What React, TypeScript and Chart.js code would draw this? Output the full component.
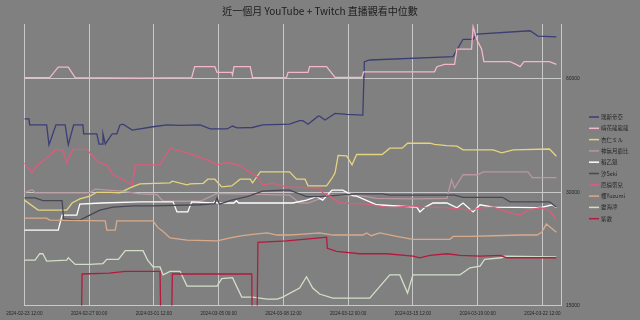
import { useEffect, useRef } from 'react';
import { Chart, registerables } from 'chart.js';

Chart.register(...registerables);

// x values are hours since 2024-02-23 12:00
const TITLE = '近一個月 YouTube + Twitch 直播觀看中位數';
const SERIES_NAMES = ['瑞斯帝亞', '晴花龍龍龍', '杏仁ミル', '神無月鹿比', '稻乙鏈', '汐Seki', '厄倫蒂兒', '櫻Yuzumi', '靈海澪', '紫歌'];
const SERIES_COLORS = ['#3b3e74', '#f4b6c8', '#e6d47c', '#b8979f', '#ffffff', '#4b4656', '#dc5c7c', '#d9aa8a', '#d2dfc8', '#b5193d'];
const X_TICK_HOURS = [0, 84, 168, 252, 336, 420, 504, 588, 672];
const X_TICK_LABELS = ['2024-02-23 12:00', '2024-02-27 00:00', '2024-03-01 12:00', '2024-03-05 00:00', '2024-03-08 12:00', '2024-03-12 00:00', '2024-03-15 12:00', '2024-03-19 00:00', '2024-03-22 12:00'];
const X_MAX_HOURS = 696;
const Y_TICKS = [15000, 30000, 60000];
const Y_MIN = 15000;
const Y_MAX = 84000;

const restiaData = [[0,47000],[6,47000],[7,45300],[29,45300],[32,40100],[41,45300],[53,45300],[57,40100],[64,45300],[76,45300],[77,42900],[94,42900],[97,40300],[101,40300],[102,42900],[105,40300],[114,42900],[120,42900],[124,45300],[128,45500],[140,43900],[167,44800],[185,45300],[202,45200],[228,45300],[241,44200],[263,44200],[270,45000],[276,44500],[296,44600],[309,45300],[344,45500],[357,46500],[361,46500],[368,45500],[381,47800],[383,47800],[390,46700],[403,48600],[418,48300],[439,48100],[441,66700],[448,67400],[556,68800],[569,76500],[582,76500],[587,79000],[656,80600],[666,78000],[690,77600]];
const hanaData = [[0,60500],[33,60500],[44,64500],[57,64500],[66,60500],[150,60300],[217,60500],[221,64700],[247,64700],[250,62500],[269,62500],[270,61500],[272,64700],[293,64700],[296,60500],[340,60500],[342,62500],[368,62500],[370,64700],[392,64700],[403,60600],[438,60600],[440,62700],[532,62700],[535,64700],[545,65600],[558,65600],[561,72000],[580,72000],[582,82600],[587,76200],[593,72100],[596,66700],[630,66700],[639,65400],[643,64700],[648,66700],[681,66700],[690,65600]];
const anninData = [[0,28600],[18,26900],[55,26900],[62,28100],[72,28800],[85,29300],[94,30000],[111,30000],[124,29900],[131,30400],[140,31000],[150,31600],[189,31800],[192,32100],[211,31400],[215,31600],[232,31700],[238,32500],[247,32500],[256,31000],[269,31200],[280,32500],[293,32500],[296,31800],[306,34000],[344,34000],[353,32500],[364,32500],[368,31200],[392,31200],[399,32700],[403,33800],[407,37600],[418,37500],[425,35500],[431,37800],[464,37800],[474,39300],[490,39300],[497,40500],[526,40500],[532,40200],[548,39900],[561,39800],[569,38900],[608,38900],[619,38200],[634,38900],[681,39100],[690,37400]];
const rokuhiData = [[0,29900],[8,30400],[11,30400],[14,29900],[85,29900],[92,30600],[100,30500],[127,30200],[150,29700],[172,29600],[180,28400],[228,28400],[250,29800],[344,29500],[357,28100],[368,28100],[396,29500],[440,29300],[457,28900],[509,28800],[548,28900],[554,32400],[558,30800],[569,33400],[588,33400],[595,34000],[653,34000],[659,32800],[690,32800]];
const inoriData = [[0,23800],[44,23800],[49,26100],[68,26100],[72,27900],[100,28100],[150,28300],[193,28300],[198,26600],[212,26600],[217,28300],[245,28100],[247,28400],[250,28100],[272,28100],[275,28500],[278,28100],[348,28100],[366,28600],[379,29200],[387,28600],[399,30400],[413,30400],[426,29400],[431,29300],[457,27800],[509,27400],[513,26600],[520,27400],[530,28100],[548,28100],[561,27300],[569,28100],[582,26600],[591,27800],[608,27400],[665,27300],[672,27400],[685,27800],[690,27300]];
const sekiData = [[0,29000],[14,29000],[24,28500],[49,28500],[51,25500],[72,25300],[85,26100],[98,26900],[115,27400],[141,27600],[167,27600],[228,27800],[247,28000],[250,29000],[253,27900],[269,28600],[289,29200],[309,30200],[335,30400],[344,30400],[366,29200],[383,29200],[431,29700],[464,29700],[474,29500],[558,29500],[569,29100],[620,29100],[630,28300],[681,28300],[690,27400]];
const erenData = [[0,35900],[10,33800],[17,35500],[24,36300],[40,38900],[50,38900],[55,35900],[63,39000],[81,39000],[89,37400],[98,35900],[107,35500],[115,33400],[128,32400],[140,31400],[144,35500],[176,35500],[189,39300],[219,37700],[237,36600],[250,35500],[263,36000],[282,35200],[287,34400],[303,32900],[306,32100],[309,31400],[322,31700],[340,31000],[383,30800],[387,29900],[396,29300],[409,28100],[444,27900],[474,27300],[504,27600],[513,27400],[548,27300],[578,26900],[595,27300],[608,27400],[626,26600],[643,26100],[653,26900],[669,27300],[681,26900],[690,25300]];
const yuzumiData = [[0,25600],[29,25600],[33,25300],[105,25200],[107,23800],[118,23800],[120,25200],[167,25200],[173,24200],[180,23600],[189,22700],[211,22400],[250,22300],[267,22700],[283,23000],[296,23200],[315,23400],[328,23100],[344,23100],[357,23200],[383,23400],[400,23100],[439,23100],[444,23400],[450,23000],[461,23400],[483,22900],[504,22500],[552,22500],[556,22900],[578,22900],[608,23000],[643,23100],[665,23100],[671,23500],[677,24700],[690,23500]];
const reiData = [[0,19800],[14,19800],[20,20600],[24,20600],[29,19700],[55,19800],[57,20100],[66,19300],[85,19300],[102,19400],[107,19900],[122,19900],[131,21000],[154,21000],[160,19800],[167,19000],[176,19000],[180,18100],[189,18500],[202,18500],[211,16900],[250,16900],[256,17700],[270,17800],[282,15800],[296,15800],[315,15600],[328,15600],[335,15800],[357,16700],[366,17900],[374,16700],[383,16100],[400,15700],[448,15700],[474,18100],[487,18100],[497,16200],[504,18100],[565,18100],[578,18900],[591,19100],[597,19900],[619,20100],[623,20300],[690,20200]];
const shikaData = [[0,10000],[73,10000],[75,18200],[110,18300],[131,18500],[176,18500],[178,10000],[190,10000],[192,18200],[295,18200],[296,10000],[301,10000],[303,22100],[340,22300],[383,22700],[392,22800],[393,21300],[405,20900],[435,20600],[470,20600],[504,20300],[513,20100],[526,20400],[548,20600],[565,20400],[591,20300],[617,20400],[626,20100],[690,20100]];

const SERIES_DATA = [restiaData, hanaData, anninData, rokuhiData, inoriData, sekiData, erenData, yuzumiData, reiData, shikaData];

const GRID = '#c9c9c9';
const TEXT = '#262626';
const CJK = '"Noto Sans CJK TC", "Noto Sans", sans-serif';

const sideLegend = {
  id: 'sideLegend',
  afterDraw(chart: any) {
    const ctx = chart.ctx;
    ctx.save();
    ctx.font = `5.5px ${CJK}`;
    ctx.textBaseline = 'middle';
    ctx.textAlign = 'left';
    chart.data.datasets.forEach((ds: any, i: number) => {
      const y = 117 + i * 11.3;
      ctx.strokeStyle = ds.borderColor;
      ctx.lineWidth = 1.5;
      ctx.beginPath();
      ctx.moveTo(589, y);
      ctx.lineTo(599, y);
      ctx.stroke();
      ctx.fillStyle = TEXT;
      ctx.fillText(ds.label, 601, y);
    });
    ctx.restore();
  },
};

export default function App() {
  const ref = useRef<HTMLCanvasElement | null>(null);

  useEffect(() => {
    if (!ref.current) return;
    const chart = new Chart(ref.current, {
      type: 'line',
      data: {
        datasets: SERIES_NAMES.map((name, i) => ({
          label: name,
          data: SERIES_DATA[i].map(([x, y]) => ({ x, y })),
          xAxisID: 'x',
          yAxisID: 'y',
          borderColor: SERIES_COLORS[i],
          backgroundColor: SERIES_COLORS[i],
          borderWidth: 1.3,
          pointRadius: 0,
          tension: 0,
          fill: false,
          order: 10 - i,
        })),
      },
      options: {
        animation: false,
        responsive: false,
        devicePixelRatio: 1,
        layout: { padding: 0 },
        plugins: {
          legend: { display: false },
          tooltip: { enabled: false },
          title: {
            display: true,
            text: TITLE,
            color: '#1c1c1c',
            font: { family: CJK, size: 10, weight: 'normal' },
            padding: { top: 5.7, bottom: 6.3 },
          },
        },
        scales: {
          x: {
            type: 'linear',
            min: 0,
            max: X_MAX_HOURS,
            afterBuildTicks: (s: any) => { s.ticks = X_TICK_HOURS.map((v) => ({ value: v })); },
            afterFit: (s: any) => { s.height = 14.4; },
            ticks: {
              autoSkip: false,
              maxRotation: 0,
              padding: 5,
              color: TEXT,
              font: { family: '"Liberation Sans", sans-serif', size: 4.6 },
              callback: (v: any) => {
                const i = X_TICK_HOURS.indexOf(Number(v));
                return i >= 0 ? X_TICK_LABELS[i] : '';
              },
            },
            grid: { color: GRID, lineWidth: 1, drawTicks: false },
            border: { display: true, color: GRID, width: 1 },
          },
          y: {
            type: 'logarithmic',
            position: 'right',
            min: Y_MIN,
            max: Y_MAX,
            afterBuildTicks: (s: any) => { s.ticks = Y_TICKS.map((v) => ({ value: v })); },
            afterFit: (s: any) => { s.width = 79; },
            ticks: {
              padding: 5,
              color: TEXT,
              font: { family: '"Liberation Sans", sans-serif', size: 5 },
              callback: (v: any) => String(v),
            },
            grid: { color: GRID, lineWidth: 1, drawTicks: false },
            border: { display: true, color: GRID, width: 1 },
          },
          yl: {
            type: 'linear',
            position: 'left',
            display: true,
            min: 0,
            max: 1,
            afterFit: (s: any) => { s.width = 24.3; },
            ticks: { display: false },
            grid: { display: false, drawTicks: false },
            border: { display: false },
          },
        },
      },
      plugins: [sideLegend],
    } as any);
    return () => chart.destroy();
  }, []);

  return (
    <div style={{ position: 'fixed', left: 0, top: 0, width: 640, height: 320, background: '#808080' }}>
      <canvas ref={ref} width={640} height={320} style={{ display: 'block', width: 640, height: 320 }} />
    </div>
  );
}
